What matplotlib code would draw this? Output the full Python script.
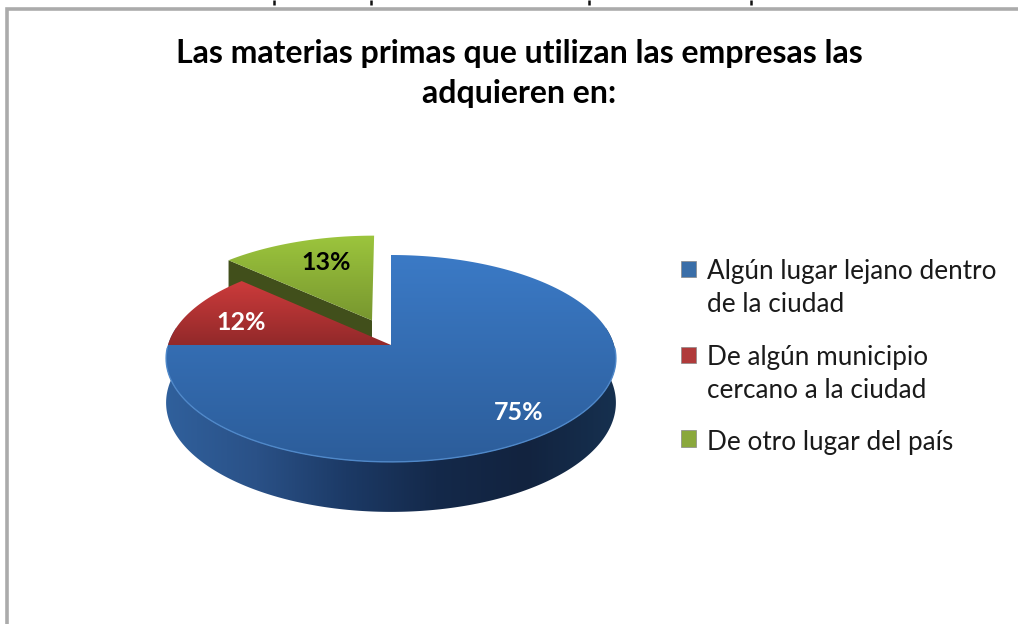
import numpy as np
import matplotlib
matplotlib.use("Agg")
import matplotlib.pyplot as plt
from matplotlib.colors import LinearSegmentedColormap as LSC
from matplotlib.patches import Patch, Rectangle, Polygon
from matplotlib.legend_handler import HandlerPatch

plt.rcParams['font.family'] = ['Lato', 'DejaVu Sans']

# ---- data ----
title_lines = ["Las materias primas que utilizan las empresas las", "adquieren en:"]
categories = ["Algún lugar lejano dentro\nde la ciudad",
              "De algún municipio\ncercano a la ciudad",
              "De otro lugar del país"]
values = [75, 12, 13]
label_colors = ["white", "white", "black"]
label_xy = [(519, 413), (241, 323), (326, 263)]
legend_colors = ["#3a6ea8", "#b03a3a", "#8aa83c"]

# ---- layout of the tilted pie (pixels) ----
CX, CY = 391, 345
RX, RY, K = 223, 101.7, 0.13
DEPTH = 43.5
EXPLODE = [(0, 0), (0, 0), (-0.088, 0.25)]


def project(theta, r=1.0, shift=(0, 0)):
    """theta clockwise from 12 o'clock (radians) -> pixel position"""
    u = r * np.sin(theta) + shift[0]
    v = r * np.cos(theta) + shift[1]
    w = 1 + K * v
    return CX + RX * u / w, CY - RY * v / w, DEPTH / w


def gradient(ax, poly_xy, stops, horizontal=False, z=1):
    xy = np.asarray(poly_xy)
    x0, x1 = xy[:, 0].min(), xy[:, 0].max()
    y0, y1 = xy[:, 1].min(), xy[:, 1].max()
    cmap = LSC.from_list("g", stops)
    arr = np.linspace(0, 1, 256)
    arr = arr[None, :] if horizontal else arr[:, None]
    im = ax.imshow(arr, cmap=cmap, extent=(x0, x1, y1, y0), origin="upper",
                   aspect="auto", zorder=z, interpolation="bilinear")
    clip = Polygon(xy, closed=True, transform=ax.transData, fc="none", ec="none")
    ax.add_patch(clip)
    im.set_clip_path(clip)
    return im


fig = plt.figure(figsize=(10.18, 6.24), dpi=100, facecolor="white")
ax = fig.add_axes([0, 0, 1, 1])

# angles of the slices, starting at 12 o'clock, clockwise
edges = np.radians(np.concatenate([[0], np.cumsum(values)]) * 360 / sum(values))


def sector(i):
    t = np.linspace(edges[i], edges[i + 1], 200)
    px, py, _ = project(t, shift=EXPLODE[i])
    ax_, ay_, _ = project(0.0, r=0.0, shift=EXPLODE[i])
    return np.column_stack([np.r_[ax_, px], np.r_[ay_, py]])


# green wall (radial face), partly hidden by the red slice
g_apex = project(0.0, r=0.0, shift=EXPLODE[2])
g_corner = project(edges[2], shift=EXPLODE[2])
wall = [(g_apex[0], g_apex[1]), (g_corner[0], g_corner[1]),
        (g_corner[0], g_corner[1] + g_corner[2]), (g_apex[0], g_apex[1] + g_apex[2])]
ax.add_patch(Polygon(wall, closed=True, fc="#414f1b", ec="none", zorder=1))

# blue outer wall
t = np.radians(np.linspace(80, 280, 300))
wx, wy, wd = project(t)
wall_xy = np.column_stack([np.r_[wx, wx[::-1]], np.r_[wy, (wy + wd)[::-1]]])
gradient(ax, wall_xy, ["#30609c", "#2a5187", "#1c3a66", "#14294a", "#12233f", "#16304f"],
         horizontal=True, z=1.5)

# top faces
tops = [("#3b7ac6", "#2c5d9a"), ("#cc3b3b", "#92292a"), ("#9cc53d", "#78972f")]
for i in [2, 1, 0]:
    gradient(ax, sector(i), tops[i], z=2 + (2 - i) * 0.1)

# light rim on the blue front edge
t = np.radians(np.linspace(92, 268, 200))
rx_, ry_, _ = project(t)
ax.plot(rx_, ry_, color="#4f88c9", lw=1, zorder=3)

# percentage labels
for v, c, (x, y) in zip(values, label_colors, label_xy):
    ax.text(x, y, f"{v}%", color=c, ha="center", va="center",
            fontsize=18, fontweight="bold", zorder=5)

# title
for line, y in zip(title_lines, [53, 94]):
    ax.text(519, y, line, ha="center", va="center", color="black",
            fontsize=23, fontweight="bold", zorder=5)


# legend
def upper(legend, orig_handle, xdescent, ydescent, width, height, fontsize):
    return Rectangle((-xdescent, -ydescent + 14), width, height, lw=0.5, ec="#888888")


def lower(legend, orig_handle, xdescent, ydescent, width, height, fontsize):
    return Rectangle((-xdescent, -ydescent + 2), width, height, lw=0.5, ec="#888888")


handles = [Patch(fc=c, ec="#888888", lw=0.5) for c in legend_colors]
hmap = {handles[0]: HandlerPatch(patch_func=upper),
        handles[1]: HandlerPatch(patch_func=upper),
        handles[2]: HandlerPatch(patch_func=lower)}
leg = ax.legend(handles, categories, handler_map=hmap, frameon=False,
                loc="upper left", bbox_to_anchor=(681 / 1018, 1 - 259 / 624),
                bbox_transform=ax.transAxes, fontsize=18.8,
                handlelength=0.58, handleheight=0.58, handletextpad=0.42,
                labelspacing=1.07, borderpad=0, borderaxespad=0)
for txt in leg.get_texts():
    txt.set_linespacing(1.39)
    txt.set_color("#1a1a1a")

# frame of the chart and clipped marks at the top of the picture
ax.plot([7, 7, 1018], [624, 9, 9], color="#ababab", lw=2.6, zorder=6, solid_joinstyle="miter")
ax.vlines([274, 371, 589, 751], 0, 5, color="#111111", lw=1.8, zorder=6)

ax.set_xlim(0, 1018)
ax.set_ylim(624, 0)
ax.set_aspect("auto")
ax.axis("off")
fig.savefig("out.png", dpi=100, facecolor="white")
